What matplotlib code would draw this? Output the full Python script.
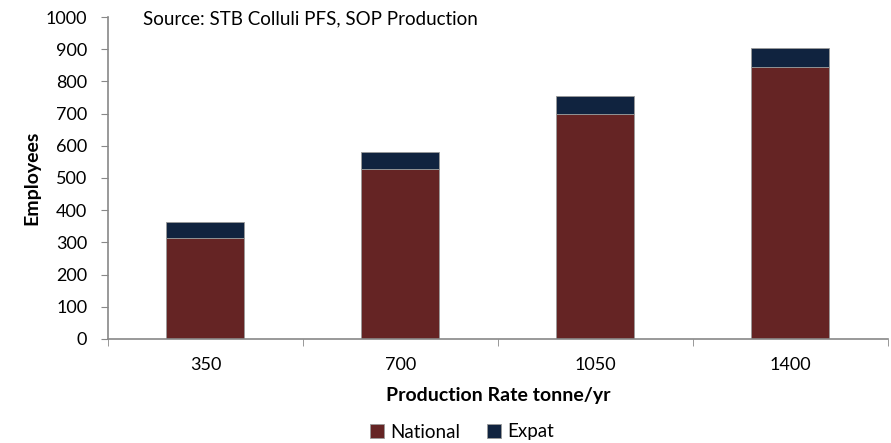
import matplotlib
matplotlib.use("Agg")
import matplotlib.pyplot as plt
import numpy as np

plt.rcParams['font.family'] = ['Lato', 'DejaVu Sans']

# data
categories = ['350', '700', '1050', '1400']
national = [313, 527, 698, 844]
expat = [49, 53, 56, 59]

fig = plt.figure(figsize=(8.91, 4.43), dpi=100)
ax = fig.add_axes([0.1212, 0.2348, 0.8754, 0.7268])

x = np.arange(len(categories))
ax.bar(x, national, width=0.4, color='#652424', edgecolor='#9a9a9a', linewidth=0.6, label='National')
ax.bar(x, expat, width=0.4, bottom=national, color='#10233f', edgecolor='#9a9a9a', linewidth=0.6, label='Expat')

ax.set_xlim(-0.5, len(categories) - 0.5)
ax.set_ylim(0, 1000)
ax.set_yticks(range(0, 1001, 100))
ax.set_xticks(x)
ax.set_xticklabels(categories)
ax.set_xticks(np.arange(-0.5, len(categories), 1.0), minor=True)
ax.tick_params(axis='x', which='major', length=0, pad=13, labelsize=13)
ax.tick_params(axis='x', which='minor', length=5, color='#888888', direction='out')
ax.tick_params(axis='y', length=5, color='#888888', direction='out', labelsize=13, pad=10)

for s in ['top', 'right']:
    ax.spines[s].set_visible(False)
for s in ['left', 'bottom']:
    ax.spines[s].set_color('#888888')
    ax.spines[s].set_linewidth(1.2)

ax.set_ylabel('Employees', fontsize=14, fontweight='bold', labelpad=4)
ax.set_xlabel('Production Rate tonne/yr', fontsize=14, fontweight='bold', labelpad=10)

ax.text(0.045, 1.02, 'Source: STB Colluli PFS, SOP Production', transform=ax.transAxes,
        fontsize=13.5, va='top', ha='left')

ax.legend(loc='center', bbox_to_anchor=(462 / 891, 11 / 443), bbox_transform=fig.transFigure,
          ncol=2, frameon=False, fontsize=13.5, handlelength=0.75, handleheight=0.75,
          handletextpad=0.35, columnspacing=1.4, borderpad=0)

plt.savefig('out.png', dpi=100)
plt.close()
